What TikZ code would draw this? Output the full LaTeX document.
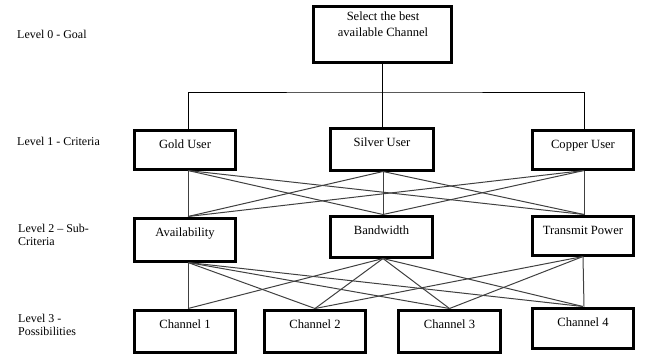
\documentclass[tikz,border=0pt]{standalone}
\usepackage{fontspec}
\setmainfont{Liberation Serif}
\begin{document}
\begin{tikzpicture}[x=1bp,y=-1bp,
  box/.style={draw, line width=3bp, inner sep=0pt, anchor=north,
    text height=18.5bp, font=\fontsize{12.6}{14}\selectfont},
  lvl/.style={anchor=north west, inner sep=0pt, align=left,
    font=\fontsize{12}{13}\selectfont},
  tree/.style={draw=black, line width=0.9bp},
  link/.style={draw=black!75, line width=1bp}]
\useasboundingbox (0,0) rectangle (648,355);

% level captions
\node[lvl] (l0) at (17,29.8) {Level 0 - Goal};
\node[lvl] (l1) at (17,136.8) {Level 1 - Criteria};
\node[lvl] (l2) at (18,223.8) {Level 2 -- Sub-\\Criteria};
\node[lvl] (l3) at (18,313.8) {Level 3 -\\Possibilities};

% goal
\node[box, minimum width=138bp, minimum height=56bp] (goal) at (382.5,4.5) {};
\node[anchor=north, inner sep=0pt, align=center,
  font=\fontsize{12.6}{16}\selectfont] (goaltxt) at (383,11.4)
  {Select the best\\available Channel};

% criteria
\node[box, minimum width=101bp, text depth=20.5bp] (gold)   at (185,128.5)   {Gold User};
\node[box, minimum width=103bp, text depth=23.5bp] (silver) at (382,126.5)   {Silver User};
\node[box, minimum width=101bp, text depth=20.5bp] (copper) at (583,128.5)   {Copper User};

% sub-criteria
\node[box, minimum width=101bp, text depth=24.5bp] (avail) at (185,216.5)   {Availability};
\node[box, minimum width=102bp, text depth=22.5bp] (band)  at (381.5,214.5) {Bandwidth};
\node[box, minimum width=101bp, text depth=20.5bp] (tp)    at (583,214.5)   {Transmit Power};

% possibilities
\node[box, minimum width=101bp, text depth=23.5bp] (ch1) at (185,308.5)   {Channel 1};
\node[box, minimum width=101bp, text depth=23.5bp] (ch2) at (315,308.5)   {Channel 2};
\node[box, minimum width=102bp, text depth=23.5bp] (ch3) at (449.5,308.5) {Channel 3};
\node[box, minimum width=101bp, text depth=21.5bp] (ch4) at (583,306.5)   {Channel 4};

% goal to criteria
\coordinate (bus) at (383,92);
\draw[tree] (goal.south) -- (goal.south |- silver.north);
\draw[tree] ([xshift=3bp]gold.north) |- (bus) -| ([xshift=1bp]copper.north);

% criteria to sub-criteria
\foreach \s/\sx in {gold/3,silver/1,copper/1}
  \foreach \t/\tx in {avail/3,band/1.5,tp/1}
    \draw[link] ([xshift=\sx bp]\s.south) -- ([xshift=\tx bp]\t.north);

% sub-criteria to possibilities
\foreach \t/\tx in {ch1/3,ch2/0,ch3/0,ch4/0}
  \draw[link] ([xshift=3bp]avail.south) -- ([xshift=\tx bp]\t.north);
\foreach \t/\tx in {ch1/3,ch2/0,ch3/0,ch4/0}
  \draw[link] ([xshift=1.5bp]band.south) -- ([xshift=\tx bp]\t.north);
\foreach \t/\tx in {ch2/0,ch3/0,ch4/1}
  \draw[link] (tp.south) -- ([xshift=\tx bp]\t.north);
\end{tikzpicture}
\end{document}
